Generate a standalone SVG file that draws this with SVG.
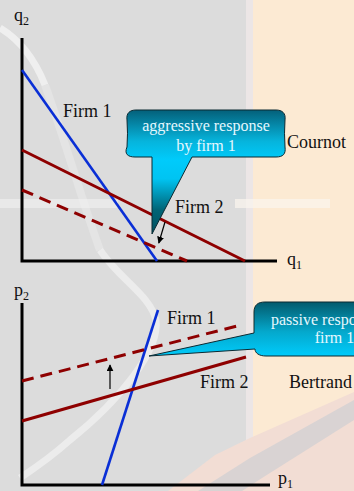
<svg xmlns="http://www.w3.org/2000/svg" width="354" height="491" viewBox="0 0 354 491">
<defs>
<style>
.lbl{font-family:"Liberation Serif","Times New Roman",serif;font-size:18px;fill:#111}
.sub{font-size:12px}
.bub{font-family:"Liberation Serif","Times New Roman",serif;font-size:16px;fill:#e6f8ff;text-anchor:middle}
.axis{stroke:#000;stroke-width:3;fill:none}
.blue{stroke:#0a2fd6;stroke-width:2.6;fill:none}
.red{stroke:#8e0000;stroke-width:3;fill:none}
.dash{stroke:#8e0000;stroke-width:3;fill:none;stroke-dasharray:12 7}
.arr{stroke:#000;stroke-width:1.2;fill:none}
</style>
<linearGradient id="g1" gradientUnits="userSpaceOnUse" x1="0" y1="110" x2="0" y2="235">
<stop offset="0" stop-color="#04607a"/>
<stop offset="0.25" stop-color="#06b4dc"/>
<stop offset="0.4" stop-color="#00cbfb"/>
<stop offset="0.55" stop-color="#00c4f2"/>
<stop offset="0.8" stop-color="#006476"/>
<stop offset="1" stop-color="#004f5e"/>
</linearGradient>
<linearGradient id="g2" gradientUnits="userSpaceOnUse" x1="0" y1="302" x2="0" y2="356">
<stop offset="0" stop-color="#035a6c"/>
<stop offset="0.55" stop-color="#04a8cc"/>
<stop offset="1" stop-color="#00cbfb"/>
</linearGradient>
<marker id="ah" viewBox="0 0 10 10" refX="9" refY="5" markerWidth="7" markerHeight="7" orient="auto" markerUnits="userSpaceOnUse">
<path d="M0,0 L10,5 L0,10 Z" fill="#000"/>
</marker>
</defs>

<g id="background">
<rect x="0" y="0" width="354" height="491" fill="#dcdcdc"/>
<rect x="246" y="0" width="8" height="491" fill="#ece6e6"/>
<rect x="253" y="0" width="101" height="491" fill="#fcead3"/>
<polygon points="168,491 215,455 250,438 354,392 354,491" fill="#f2ddd4"/>
<polygon points="198,491 250,458 354,400 354,420 262,478 242,491" fill="#d9d3d3"/>
<path d="M0,28 C20,40 35,60 45,85" stroke="#f6f6f6" stroke-width="7" fill="none" opacity="0.7"/>
<path d="M45,85 C65,140 85,210 100,250" stroke="#eeeeee" stroke-width="8" fill="none" opacity="0.45"/>
<path d="M100,250 C120,280 150,295 156,320 C160,350 120,400 70,440 C50,458 35,468 20,478" stroke="#f6f6f6" stroke-width="7" fill="none" opacity="0.6"/>
<rect x="0" y="199" width="118" height="9" fill="#f2f2f2" opacity="0.6"/>
<rect x="235" y="199" width="95" height="9" fill="#fbf5ee" opacity="0.7"/>
</g>

<g id="top-chart">
<g id="top-axes">
<path class="axis" d="M22,38 L22,261 L277,261"/>
<text class="lbl" x="14" y="21">q<tspan class="sub" dy="4">2</tspan></text>
<text class="lbl" x="287" y="265">q<tspan class="sub" dy="4">1</tspan></text>
</g>
<g id="connectors-top">
<line class="blue" x1="22" y1="70" x2="157" y2="261"/>
<line class="red" x1="22" y1="150" x2="245" y2="261"/>
<line class="dash" x1="22" y1="190" x2="187" y2="261"/>
<line class="arr" x1="165" y1="222" x2="158.8" y2="243" marker-end="url(#ah)"/>
</g>
<g id="top-labels">
<text class="lbl" x="63" y="117">Firm 1</text>
<text class="lbl" x="175" y="213">Firm 2</text>
<text class="lbl" x="287" y="148">Cournot</text>
</g>
<g id="callout-aggressive">
<path d="M136,110 L276,110 C282,110 286,113 285,120 Q284,133 285,147 C286,154 283,157 276,157 L192,157 L152,234 L152,157 L135,157 C128,157 124,154 127,147 Q128,133 127,120 C126,113 130,110 136,110 Z" fill="url(#g1)" stroke="#0b2a33" stroke-width="1"/>
<text class="bub" x="206" y="131">aggressive response</text>
<text class="bub" x="206" y="151">by firm 1</text>
</g>
</g>

<g id="bottom-chart">
<g id="bottom-axes">
<path class="axis" d="M22,303 L22,485 L270,485"/>
<text class="lbl" x="14" y="296">p<tspan class="sub" dy="4">2</tspan></text>
<text class="lbl" x="278" y="484">p<tspan class="sub" dy="4">1</tspan></text>
</g>
<g id="connectors-bottom">
<line class="blue" x1="102" y1="485" x2="158" y2="310"/>
<line class="red" x1="22" y1="421" x2="246" y2="357"/>
<line class="dash" x1="22" y1="381" x2="237" y2="326"/>
<line class="arr" x1="110" y1="389" x2="110" y2="365" marker-end="url(#ah)"/>
</g>
<g id="bottom-labels">
<text class="lbl" x="167" y="324">Firm 1</text>
<text class="lbl" x="200" y="388">Firm 2</text>
<text class="lbl" x="289" y="388">Bertrand</text>
</g>
<g id="callout-passive">
<path d="M265,302 L430,302 L430,356 L266,356 C259,356 255,353 255,349 L149,356 L254,333 L254,312 C254,305 258,302 265,302 Z" fill="url(#g2)" stroke="#0b2a33" stroke-width="1"/>
<text class="bub" x="334.5" y="325">passive response by</text>
<text class="bub" x="334.5" y="343">firm 1</text>
</g>
</g>
</svg>
